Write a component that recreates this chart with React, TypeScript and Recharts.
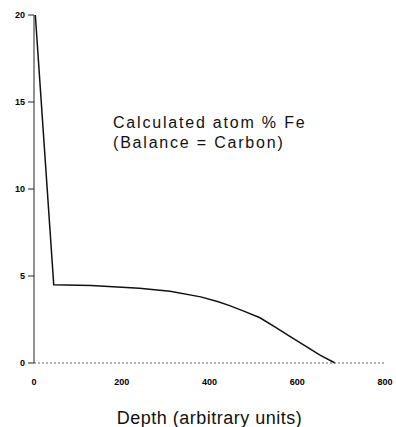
import { LineChart, Line, XAxis, YAxis } from 'recharts';

document.body.style.margin = '0';

// depth (arbitrary units) vs calculated atom % Fe
const depth = [3, 45, 130, 240, 310, 380, 420, 446, 481, 515, 549, 585, 620, 651, 686];
const atomFe = [20, 4.5, 4.45, 4.3, 4.12, 3.8, 3.52, 3.3, 2.95, 2.6, 2.08, 1.5, 0.95, 0.47, 0];
const xTicks = [0, 200, 400, 600, 800];
const yTicks = [0, 5, 10, 15, 20];

const data = depth.map((d, i) => ({ depth: d, fe: atomFe[i] }));

const tickStyle = { fontSize: 9, fontWeight: 700, fill: '#000', fontFamily: 'Liberation Sans, Arial, sans-serif' };

export default function App() {
  return (
    <div style={{ width: 396, height: 427, background: '#fff' }}>
      <LineChart width={396} height={427} data={data} margin={{ top: 15, right: 11, bottom: 0, left: 0 }}>
        <XAxis
          dataKey="depth"
          type="number"
          domain={[0, 800]}
          ticks={xTicks}
          stroke="#666"
          strokeDasharray="2 2"
          tickLine={false}
          tickMargin={10}
          tick={tickStyle}
          height={64}
          label={{
            value: 'Depth (arbitrary units)',
            position: 'insideBottom',
            offset: 3,
            style: { fontSize: 18, letterSpacing: 0.5, fill: '#111', fontFamily: 'Liberation Sans, Arial, sans-serif' },
          }}
        />
        <YAxis
          type="number"
          domain={[0, 20]}
          ticks={yTicks}
          width={34}
          stroke="#222"
          tickSize={6}
          tickMargin={3}
          tick={tickStyle}
        />
        <Line
          type="linear"
          dataKey="fe"
          stroke="#111"
          strokeWidth={1.5}
          dot={false}
          isAnimationActive={false}
        />
        <text
          x={113}
          y={128}
          fontSize={16}
          letterSpacing={1.8}
          fill="#111"
          fontFamily="Liberation Sans, Arial, sans-serif"
        >
          Calculated atom % Fe
        </text>
        <text
          x={113}
          y={148}
          fontSize={16}
          letterSpacing={1.8}
          fill="#111"
          fontFamily="Liberation Sans, Arial, sans-serif"
        >
          (Balance = Carbon)
        </text>
      </LineChart>
    </div>
  );
}
